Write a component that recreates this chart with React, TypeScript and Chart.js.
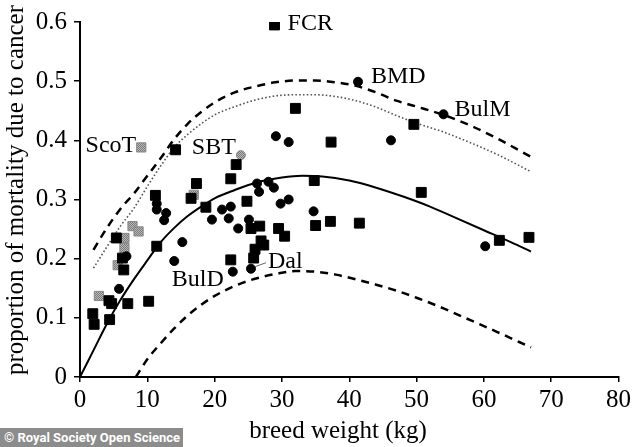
import React, { useEffect, useRef } from 'react';
import { Chart, registerables } from 'chart.js';

Chart.register(...registerables);

// ---- data ----
const xTickValues = [0, 10, 20, 30, 40, 50, 60, 70, 80];
const yTickLabels = ['0', '0.1', '0.2', '0.3', '0.4', '0.5', '0.6'];

const blackSquares: [number, number][] = [
  [28.9, 0.595], [32.0, 0.454], [37.3, 0.397], [49.6, 0.427], [34.8, 0.332],
  [35.0, 0.256], [37.2, 0.263], [41.5, 0.260], [50.7, 0.312], [62.3, 0.231],
  [66.7, 0.236], [14.2, 0.384], [23.2, 0.359], [22.4, 0.335], [17.3, 0.327],
  [16.5, 0.302], [18.7, 0.287], [24.8, 0.297], [25.4, 0.251], [26.7, 0.255],
  [29.5, 0.251], [30.4, 0.238], [26.9, 0.230], [27.3, 0.223], [26.0, 0.216],
  [25.8, 0.201], [22.4, 0.198], [11.2, 0.307], [11.4, 0.221], [5.4, 0.235],
  [6.3, 0.201], [6.5, 0.181], [4.3, 0.129], [4.7, 0.124], [7.1, 0.124],
  [10.2, 0.128], [1.9, 0.107], [2.1, 0.089], [4.4, 0.097],
];

const blackCircles: [number, number][] = [
  [41.3, 0.499], [54.0, 0.444], [29.1, 0.407], [31.0, 0.397], [46.2, 0.400],
  [31.0, 0.300], [29.8, 0.293], [34.7, 0.280], [60.2, 0.221], [26.3, 0.327],
  [26.6, 0.313], [28.0, 0.330], [28.8, 0.320], [21.1, 0.283], [22.4, 0.288],
  [19.6, 0.266], [22.1, 0.268], [23.5, 0.251], [25.1, 0.266], [22.7, 0.178],
  [25.4, 0.183], [15.2, 0.228], [11.4, 0.293], [11.4, 0.283], [12.8, 0.277],
  [12.5, 0.265], [14.0, 0.196], [6.9, 0.204], [5.8, 0.149],
];

const graySquares: [number, number][] = [
  [9.1, 0.388], [16.9, 0.308], [7.8, 0.255], [8.7, 0.246], [6.6, 0.235],
  [6.6, 0.218], [5.6, 0.189], [2.8, 0.137],
];

const grayCircles: [number, number][] = [[23.9, 0.375]];

const fitX = [0, 2, 4, 6, 8, 10, 12, 14, 16, 18, 20, 23, 26, 30, 33, 36, 40, 44, 48, 52, 56, 60, 64, 67];
const fitY = [0, 0.045, 0.09, 0.13, 0.165, 0.197, 0.228, 0.252, 0.272, 0.288, 0.302, 0.316, 0.328, 0.337, 0.34, 0.339, 0.332, 0.32, 0.305, 0.288, 0.268, 0.248, 0.228, 0.212];

const upperX = [2, 4, 6, 8, 10, 12, 14, 16, 18, 20, 23, 26, 29, 32, 35, 38, 41, 44, 47, 50, 54, 58, 62, 67];
const upperDashY = [0.215, 0.252, 0.284, 0.31, 0.34, 0.37, 0.402, 0.428, 0.448, 0.464, 0.481, 0.491, 0.498, 0.501, 0.501, 0.498, 0.492, 0.481, 0.467, 0.457, 0.443, 0.425, 0.403, 0.372];
const dottedY = [0.184, 0.22, 0.255, 0.285, 0.322, 0.357, 0.388, 0.41, 0.428, 0.443, 0.457, 0.468, 0.475, 0.477, 0.477, 0.474, 0.467, 0.456, 0.442, 0.429, 0.414, 0.396, 0.376, 0.347];

const lowerX = [8.3, 10, 12, 14, 16, 18, 20, 23, 26, 29, 32, 35, 38, 41, 44, 47, 50, 54, 58, 62, 67];
const lowerY = [0, 0.03, 0.057, 0.082, 0.104, 0.122, 0.137, 0.154, 0.166, 0.174, 0.179, 0.178, 0.173, 0.165, 0.156, 0.146, 0.134, 0.116, 0.096, 0.076, 0.05];

const breedNames = ['FCR', 'ScoT', 'SBT', 'BMD', 'BulM', 'BulD', 'Dal'];
const breedAnchors: [number, number][] = [
  [28.9, 0.595], [9.1, 0.388], [23.9, 0.375], [41.3, 0.499], [54.0, 0.444], [22.7, 0.178], [25.4, 0.183],
];

const xTitle = 'breed weight (kg)';
const yTitle = 'proportion of mortality due to cancer';

const toPts = (xs: number[], ys: number[]) => xs.map((x, i) => ({ x, y: ys[i] }));
const pairPts = (arr: [number, number][]) => arr.map(([x, y]) => ({ x, y }));

const FONT = '"Liberation Serif", "Times New Roman", serif';

// label placement (pixels, relative to anchor)
const labelStyle: { dx: number; dy: number; align: CanvasTextAlign }[] = [
  { dx: 13, dy: -1, align: 'left' },
  { dx: -5, dy: -2, align: 'right' },
  { dx: -5, dy: -7, align: 'right' },
  { dx: 13, dy: -5, align: 'left' },
  { dx: 11, dy: -5, align: 'left' },
  { dx: -9, dy: 8, align: 'right' },
  { dx: 17, dy: -7, align: 'left' },
];

export default function App() {
  const ref = useRef<HTMLCanvasElement | null>(null);

  useEffect(() => {
    if (!ref.current) return;
    const pc = document.createElement('canvas');
    pc.width = 2;
    pc.height = 2;
    const pctx = pc.getContext('2d')!;
    pctx.fillStyle = '#b8b8b8';
    pctx.fillRect(0, 0, 2, 2);
    pctx.fillStyle = '#7a7a7a';
    pctx.fillRect(0, 0, 1, 1);
    pctx.fillRect(1, 1, 1, 1);
    const pattern = ref.current.getContext('2d')!.createPattern(pc, 'repeat')!;

    const overlay = {
      id: 'overlay',
      afterDatasetsDraw(chart: any) {
        const { ctx, scales } = chart;
        const xs = scales.x;
        const ys = scales.y;
        ctx.save();
        ctx.fillStyle = '#000';
        ctx.font = `24px ${FONT}`;
        ctx.textBaseline = 'middle';
        breedNames.forEach((name, i) => {
          const [dx, dy] = breedAnchors[i];
          const px = xs.getPixelForValue(dx);
          const py = ys.getPixelForValue(dy);
          const st = labelStyle[i];
          ctx.textAlign = st.align;
          ctx.fillText(name, px + st.dx, py + st.dy);
          if (name === 'Dal') {
            ctx.strokeStyle = '#666';
            ctx.lineWidth = 1;
            ctx.beginPath();
            ctx.moveTo(px + 4, py - 2);
            ctx.lineTo(px + 15, py - 6);
            ctx.stroke();
          }
        });
        // axis titles
        ctx.font = `25px ${FONT}`;
        ctx.textAlign = 'center';
        ctx.textBaseline = 'middle';
        ctx.fillText(xTitle, 338, 431);
        ctx.translate(16, 190);
        ctx.rotate(-Math.PI / 2);
        ctx.fillText(yTitle, 0, 0);
        ctx.restore();
      },
    };

    const chart = new Chart(ref.current, {
      type: 'scatter',
      data: {
        datasets: [
          {
            label: 'black squares',
            data: pairPts(blackSquares),
            pointStyle: 'rect',
            pointRadius: 7,
            backgroundColor: '#000',
            borderColor: '#000',
            borderWidth: 1,
          },
          {
            label: 'black circles',
            data: pairPts(blackCircles),
            pointStyle: 'circle',
            pointRadius: 4.5,
            backgroundColor: '#000',
            borderColor: '#000',
            borderWidth: 1,
          },
          {
            label: 'gray squares',
            data: pairPts(graySquares),
            pointStyle: 'rect',
            pointRadius: 6.5,
            backgroundColor: pattern,
            borderColor: '#888',
            borderWidth: 1,
          },
          {
            label: 'gray circles',
            data: pairPts(grayCircles),
            pointStyle: 'circle',
            pointRadius: 4.5,
            backgroundColor: pattern,
            borderColor: '#888',
            borderWidth: 1,
          },
          {
            type: 'line',
            label: 'fit',
            data: toPts(fitX, fitY),
            borderColor: '#000',
            borderWidth: 2,
            pointRadius: 0,
            cubicInterpolationMode: 'monotone',
            fill: false,
          },
          {
            type: 'line',
            label: 'upper',
            data: toPts(upperX, upperDashY),
            borderColor: '#000',
            borderWidth: 2.5,
            borderDash: [8, 6],
            pointRadius: 0,
            cubicInterpolationMode: 'monotone',
            fill: false,
          },
          {
            type: 'line',
            label: 'dotted',
            data: toPts(upperX, dottedY),
            borderColor: '#555',
            borderWidth: 1.6,
            borderDash: [1.6, 2.2],
            pointRadius: 0,
            cubicInterpolationMode: 'monotone',
            fill: false,
          },
          {
            type: 'line',
            label: 'lower',
            data: toPts(lowerX, lowerY),
            borderColor: '#000',
            borderWidth: 2.5,
            borderDash: [8, 6],
            pointRadius: 0,
            cubicInterpolationMode: 'monotone',
            fill: false,
          },
        ],
      } as any,
      options: {
        animation: false,
        responsive: true,
        maintainAspectRatio: false,
        layout: { padding: { top: 19, right: 12, left: 0, bottom: 0 } },
        plugins: {
          legend: { display: false },
          tooltip: { enabled: false },
        },
        scales: {
          x: {
            type: 'linear',
            min: 0,
            max: 80,
            afterBuildTicks: (s: any) => {
              s.ticks = xTickValues.map((v) => ({ value: v }));
            },
            afterFit: (s: any) => {
              s.height = 70;
            },
            ticks: {
              color: '#000',
              font: { family: FONT, size: 25 },
              padding: 3,
              maxRotation: 0,
              autoSkip: false,
            },
            grid: {
              drawOnChartArea: false,
              drawTicks: true,
              tickLength: 5,
              color: '#000',
              lineWidth: 1.5,
            },
            border: { color: '#000', width: 2 },
          },
          y: {
            type: 'linear',
            min: 0,
            max: 0.6,
            afterBuildTicks: (s: any) => {
              s.ticks = yTickLabels.map((_, i) => ({ value: i / 10 }));
            },
            afterFit: (s: any) => {
              s.width = 80;
            },
            ticks: {
              color: '#000',
              font: { family: FONT, size: 25 },
              padding: 7,
              autoSkip: false,
              callback: (_v: any, i: number) => yTickLabels[i],
            },
            grid: {
              drawOnChartArea: false,
              drawTicks: true,
              tickLength: 6,
              color: '#000',
              lineWidth: 1.5,
            },
            border: { color: '#000', width: 2 },
          },
        },
      },
      plugins: [overlay],
    } as any);
    return () => chart.destroy();
  }, []);

  return (
    <div style={{ position: 'fixed', left: 0, top: 0, width: 634, height: 447, background: '#fff' }}>
      <canvas ref={ref} />
      <div
        style={{
          position: 'absolute',
          left: 0,
          top: 428,
          width: 183,
          height: 19,
          background: '#8c8c8c',
          color: '#fff',
          fontFamily: 'Roboto, "Liberation Sans", sans-serif',
          fontWeight: 700,
          fontSize: 13,
          lineHeight: '19px',
          paddingLeft: 4,
          boxSizing: 'border-box',
          whiteSpace: 'nowrap',
          overflow: 'hidden',
        }}
      >
        © Royal Society Open Science
      </div>
    </div>
  );
}
